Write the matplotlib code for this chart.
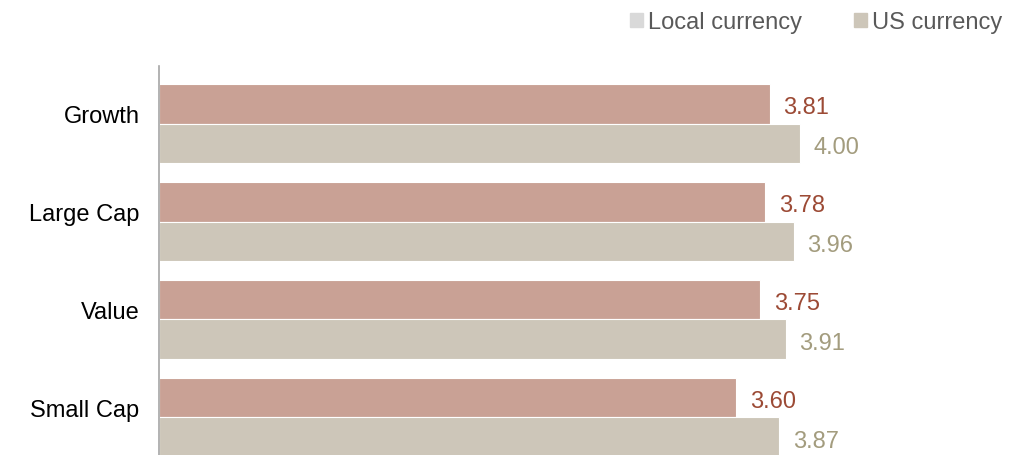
import matplotlib.pyplot as plt
from matplotlib.patches import Patch
from matplotlib.transforms import ScaledTranslation

categories = ["Growth", "Large Cap", "Value", "Small Cap"]
local_vals = [3.81, 3.78, 3.75, 3.60]
us_vals = [4.00, 3.96, 3.91, 3.87]

plt.rcParams['font.family'] = ['Liberation Sans', 'DejaVu Sans']

local_col = "#c9a195"
us_col = "#cdc6b9"
local_txt = "#9c4a35"
us_txt = "#a39c7e"

fig = plt.figure(figsize=(10.23, 4.56), dpi=100)
ax = fig.add_axes([159/1023, 0, (1010-159)/1023, 389/456])

h = 0.4
ypos = list(range(len(categories)))
ax.barh([y - h/2 for y in ypos], local_vals, height=h, color=local_col,
        edgecolor="white", linewidth=0.8)
ax.barh([y + h/2 for y in ypos], us_vals, height=h, color=us_col,
        edgecolor="white", linewidth=0.8)

for y, v in zip(ypos, local_vals):
    ax.annotate(f"{v:.2f}", (v, y - h/2), xytext=(10, -2), textcoords="offset points",
                va="center", ha="left", fontsize=17, color=local_txt)
for y, v in zip(ypos, us_vals):
    ax.annotate(f"{v:.2f}", (v, y + h/2), xytext=(10, -3), textcoords="offset points",
                va="center", ha="left", fontsize=17, color=us_txt)

ax.set_xlim(0, (1010-159)/160.25)
ax.set_ylim(3.383, -0.587)
ax.set_yticks(ypos)
ax.set_yticklabels(categories, fontsize=17)
ax.tick_params(axis="y", length=0, pad=14)
shift = ScaledTranslation(0, 10/100, fig.dpi_scale_trans)
for lab in ax.get_yticklabels():
    lab.set_transform(lab.get_transform() + shift)
ax.set_xticks([])
for s in ["top", "right", "bottom"]:
    ax.spines[s].set_visible(False)
ax.spines["left"].set_color("#a6a6a6")
ax.spines["left"].set_linewidth(1.2)

handles = [Patch(color="#d9d9d9", label="Local currency"),
           Patch(color=us_col, label="US currency")]
fig.legend(handles=handles, loc="upper right", bbox_to_anchor=(1.0, 1.02), ncol=2,
           frameon=False, fontsize=17, handlelength=0.55, handleheight=0.55,
           handletextpad=0.2, columnspacing=2.2, labelcolor="#595959")

fig.savefig("out.png", dpi=100)
